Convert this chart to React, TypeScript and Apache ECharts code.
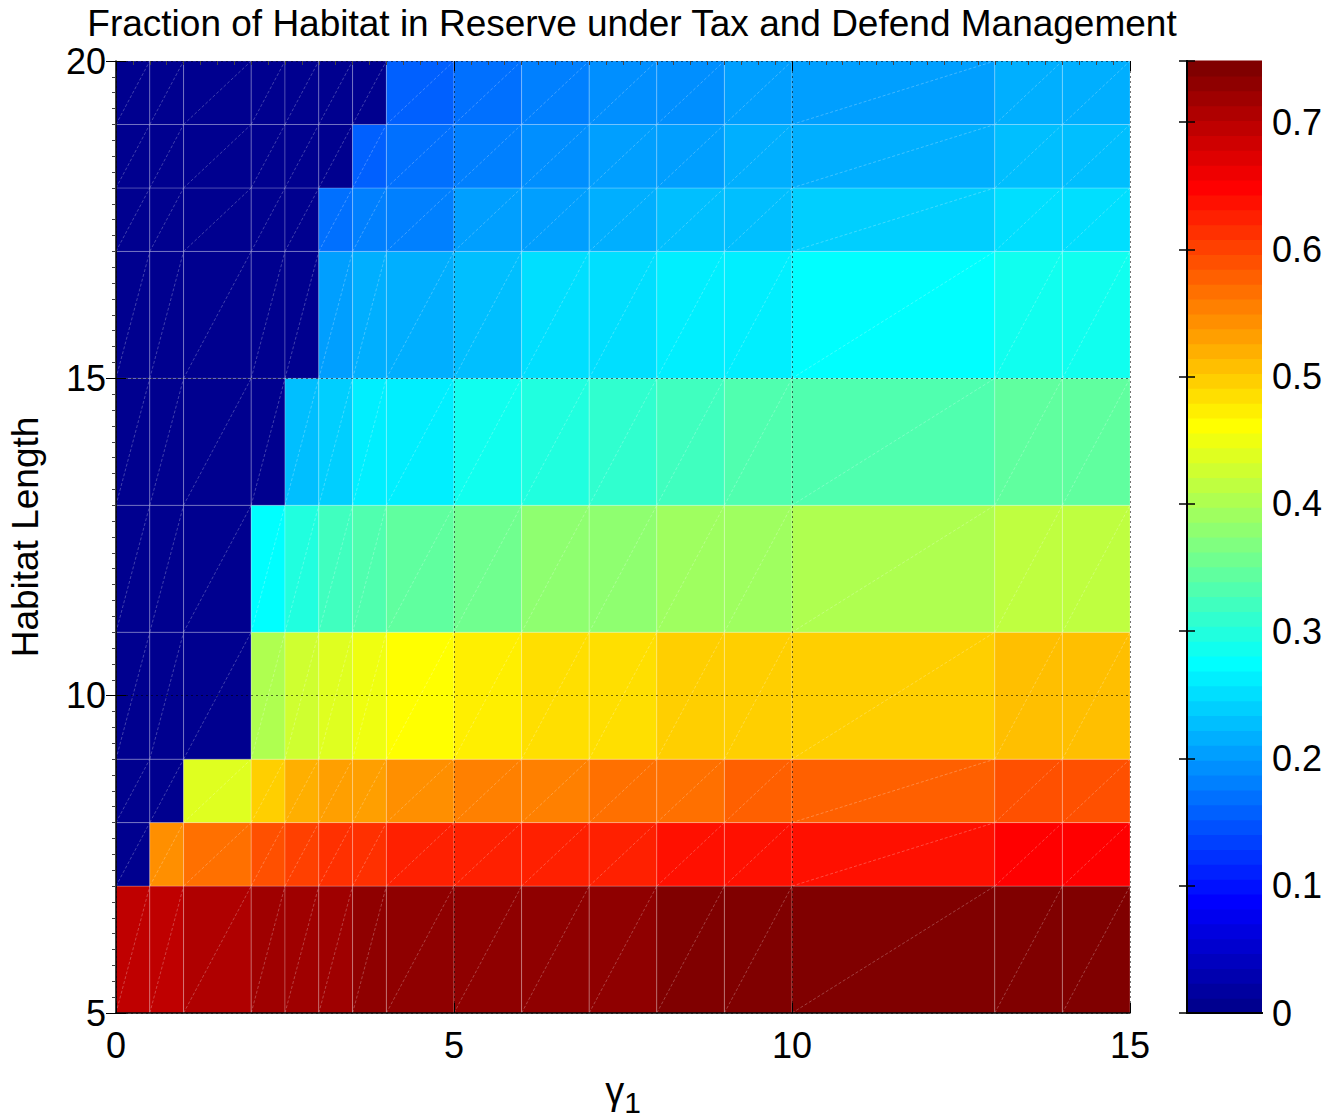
import React, { useEffect, useRef } from "react";
import * as echarts from "echarts";

// Cell edges of the gamma_1 grid and the habitat-length grid
const gammaEdges = [0, 0.5, 1, 2, 2.5, 3, 3.5, 4, 5, 6, 7, 8, 9, 10, 13, 14, 15];
const lengthEdges = [5, 7, 8, 9, 11, 13, 15, 17, 18, 19, 20];

// Fraction of habitat in reserve, one row per length band (bottom to top), one value per gamma band
const row5to7 = [0.695, 0.695, 0.707, 0.719, 0.719, 0.719, 0.730, 0.730, 0.730, 0.730, 0.730, 0.742, 0.742, 0.742, 0.742, 0.742];
const row7to8 = [0, 0.543, 0.567, 0.590, 0.602, 0.614, 0.614, 0.625, 0.625, 0.625, 0.625, 0.637, 0.637, 0.637, 0.649, 0.649];
const row8to9 = [0, 0, 0.438, 0.497, 0.520, 0.532, 0.532, 0.543, 0.555, 0.555, 0.567, 0.567, 0.579, 0.579, 0.590, 0.590];
const row9to11 = [0, 0, 0, 0.403, 0.427, 0.438, 0.450, 0.462, 0.473, 0.485, 0.485, 0.497, 0.497, 0.497, 0.508, 0.508];
const row11to13 = [0, 0, 0, 0.275, 0.298, 0.321, 0.333, 0.345, 0.357, 0.380, 0.380, 0.392, 0.392, 0.403, 0.415, 0.415];
const row13to15 = [0, 0, 0, 0, 0.228, 0.240, 0.263, 0.263, 0.286, 0.298, 0.310, 0.321, 0.333, 0.333, 0.345, 0.345];
const row15to17 = [0, 0, 0, 0, 0, 0.205, 0.216, 0.216, 0.228, 0.251, 0.251, 0.263, 0.263, 0.275, 0.286, 0.286];
const row17to18 = [0, 0, 0, 0, 0, 0.170, 0.181, 0.181, 0.205, 0.205, 0.216, 0.228, 0.228, 0.240, 0.251, 0.251];
const row18to19 = [0, 0, 0, 0, 0, 0, 0.158, 0.170, 0.181, 0.193, 0.205, 0.205, 0.216, 0.216, 0.228, 0.228];
const row19to20 = [0, 0, 0, 0, 0, 0, 0, 0.158, 0.170, 0.181, 0.193, 0.193, 0.205, 0.205, 0.216, 0.216];
const fractionRows = [row5to7, row7to8, row8to9, row9to11, row11to13, row13to15, row15to17, row17to18, row18to19, row19to20];

// Colour scale
const colorMax = 0.748;
const colorLevels = 64;
const colorbarTicks = [0, 0.1, 0.2, 0.3, 0.4, 0.5, 0.6, 0.7];

const FONT = "'Liberation Sans', Arial, Helvetica, sans-serif";

function jetColors(n: number): string[] {
  const out: string[] = [];
  const q = n / 4;
  for (let i = 1; i <= n; i++) {
    let r = 0, g = 0, b = 0;
    if (i <= q / 2) { b = 0.5 + i / q; }
    else if (i <= q * 1.5) { g = (i - q / 2) / q; b = 1; }
    else if (i <= q * 2.5) { r = (i - q * 1.5) / q; g = 1; b = 1 - (i - q * 1.5) / q; }
    else if (i <= q * 3.5) { r = 1; g = 1 - (i - q * 2.5) / q; }
    else { r = 1 - (i - q * 3.5) / q; }
    const h = (v: number) => Math.round(Math.max(0, Math.min(1, v)) * 255);
    out.push(`rgb(${h(r)},${h(g)},${h(b)})`);
  }
  return out;
}

export default function App() {
  const ref = useRef<HTMLDivElement>(null);

  useEffect(() => {
    document.body.style.margin = "0";
    if (!ref.current) return;
    const chart = echarts.init(ref.current, undefined, { renderer: "svg" });

    const jet = jetColors(colorLevels);
    const step = colorMax / colorLevels;
    const pieces = jet.map((c, i) =>
      i === colorLevels - 1
        ? { gte: i * step, lte: colorMax + 1e-9, color: c }
        : { gte: i * step, lt: (i + 1) * step, color: c }
    );

    const cells: number[][] = [];
    fractionRows.forEach((row, j) => {
      row.forEach((v, i) => {
        cells.push([gammaEdges[i], gammaEdges[i + 1], lengthEdges[j], lengthEdges[j + 1], v]);
      });
    });

    const bands: number[][] = jet.map((_, i) => [0, 1, i * step, (i + 1) * step, (i + 0.5) * step]);

    const tickFont = { fontSize: 36, color: "#000", fontFamily: FONT };

    const option: any = {
      animation: false,
      backgroundColor: "#fff",
      title: {
        text: "Fraction of Habitat in Reserve under Tax and Defend Management",
        left: 627,
        textAlign: "center",
        top: 0,
        textStyle: { fontSize: 37, fontWeight: "normal", color: "#000", fontFamily: FONT },
      },
      grid: [
        { left: 116, top: 61, width: 1014, height: 952, containLabel: false, outerBoundsMode: "none" },
        { left: 1187, top: 61, width: 75, height: 952, containLabel: false, outerBoundsMode: "none" },
      ],
      visualMap: {
        type: "piecewise",
        show: false,
        dimension: 4,
        seriesIndex: [0, 1],
        pieces,
      },
      xAxis: [
        {
          type: "value", gridIndex: 0, min: 0, max: 15, interval: 5, position: "bottom", z: 10,
          axisLine: { show: true, lineStyle: { color: "#000", width: 1.5 } },
          axisTick: { show: true, inside: true, length: 10, lineStyle: { color: "#000", width: 1 } },
          axisLabel: { ...tickFont, margin: 14 },
          splitLine: { show: true, lineStyle: { color: "rgba(0,0,0,0.55)", width: 1, type: [2, 3] } },
          name: "{g|γ}{s|1}",
          nameLocation: "middle",
          nameGap: 52,
          nameTextStyle: {
            rich: {
              g: { fontSize: 38, fontFamily: FONT, color: "#000" },
              s: { fontSize: 30, fontFamily: FONT, color: "#000", padding: [22, 0, 0, 0] },
            },
          },
        },
        {
          type: "value", gridIndex: 0, min: 0, max: 15, interval: 5, position: "top", z: 10,
          axisLine: { show: false },
          axisTick: { show: true, inside: true, length: 10, lineStyle: { color: "#000", width: 1 } },
          minorTick: { show: true, splitNumber: 20, length: 4, lineStyle: { color: "#444", width: 1 } },
          axisLabel: { show: false },
          splitLine: { show: false },
        },
        {
          type: "value", gridIndex: 1, min: 0, max: 1, position: "bottom", z: 10,
          axisLine: { show: true, lineStyle: { color: "#000", width: 2 } },
          axisTick: { show: false }, axisLabel: { show: false }, splitLine: { show: false },
        },
        {
          type: "value", gridIndex: 1, min: 0, max: 1, position: "top", z: 10,
          axisLine: { show: true, lineStyle: { color: "#000", width: 2 } },
          axisTick: { show: false }, axisLabel: { show: false }, splitLine: { show: false },
        },
      ],
      yAxis: [
        {
          type: "value", gridIndex: 0, min: 5, max: 20, interval: 5, position: "left", z: 10,
          axisLine: { show: true, lineStyle: { color: "#000", width: 1.5 } },
          axisTick: { show: true, inside: true, length: 10, lineStyle: { color: "#000", width: 1 } },
          axisLabel: { ...tickFont, margin: 10 },
          splitLine: { show: true, lineStyle: { color: "rgba(0,0,0,0.55)", width: 1, type: [2, 3] } },
          name: "Habitat Length",
          nameLocation: "middle",
          nameGap: 72,
          nameTextStyle: { fontSize: 37, color: "#000", fontFamily: FONT },
        },
        {
          type: "value", gridIndex: 0, min: 5, max: 20, interval: 5, position: "right", z: 10,
          axisLine: { show: false },
          axisTick: { show: true, inside: true, length: 10, lineStyle: { color: "#000", width: 1 } },
          minorTick: { show: true, splitNumber: 20, length: 4, lineStyle: { color: "#444", width: 1 } },
          axisLabel: { show: false },
          splitLine: { show: false },
        },
        {
          type: "value", gridIndex: 1, min: 0, max: colorMax, interval: 0.1, position: "left", z: 10,
          axisLine: { show: true, lineStyle: { color: "#000", width: 2 } },
          axisTick: { show: true, inside: true, length: 8, lineStyle: { color: "#000", width: 1.5 } },
          axisLabel: { show: false },
          splitLine: { show: false },
        },
        {
          type: "value", gridIndex: 1, min: 0, max: colorMax, interval: 0.1, position: "right", z: 10,
          axisLine: { show: true, lineStyle: { color: "#000", width: 2 } },
          axisTick: { show: true, inside: true, length: 8, lineStyle: { color: "#000", width: 1.5 } },
          axisLabel: {
            ...tickFont, margin: 10,
            formatter: (v: number) => {
              const t = colorbarTicks.find((c) => Math.abs(c - v) < 1e-6);
              return t === undefined ? "" : String(t);
            },
          },
          splitLine: { show: false },
        },
      ],
      series: [
        {
          type: "custom",
          xAxisIndex: 0,
          yAxisIndex: 0,
          data: cells,
          encode: { x: [0, 1], y: [2, 3] },
          renderItem: (params: any, api: any) => {
            const p0 = api.coord([api.value(0), api.value(2)]);
            const p1 = api.coord([api.value(1), api.value(3)]);
            const color = api.visual("color");
            return {
              type: "group",
              children: [
                {
                  type: "rect",
                  shape: { x: p0[0], y: p1[1], width: p1[0] - p0[0], height: p0[1] - p1[1] },
                  style: { fill: color, stroke: "rgba(255,255,255,0.22)", lineWidth: 1 },
                },
                {
                  type: "line",
                  shape: { x1: p0[0], y1: p0[1], x2: p1[0], y2: p1[1] },
                  style: { stroke: "rgba(255,255,255,0.25)", lineWidth: 1, lineDash: [3, 2] },
                },
              ],
            };
          },
        },
        {
          type: "custom",
          xAxisIndex: 2,
          yAxisIndex: 2,
          data: bands,
          encode: { x: [0, 1], y: [2, 3] },
          renderItem: (params: any, api: any) => {
            const p0 = api.coord([api.value(0), api.value(2)]);
            const p1 = api.coord([api.value(1), api.value(3)]);
            const color = api.visual("color");
            return {
              type: "rect",
              shape: { x: p0[0], y: p1[1] - 0.5, width: p1[0] - p0[0], height: p0[1] - p1[1] + 1 },
              style: { fill: color },
            };
          },
        },
      ],
    };

    chart.setOption(option);
    return () => chart.dispose();
  }, []);

  return <div ref={ref} style={{ width: 1336, height: 1120 }} />;
}
